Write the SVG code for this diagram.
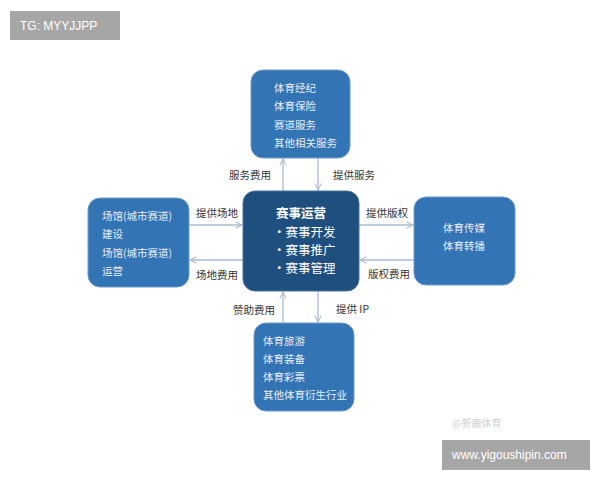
<svg xmlns="http://www.w3.org/2000/svg" width="600" height="480" viewBox="0 0 600 480">
<style>
.box{fill:#3374b5;stroke:#6f9bc8;stroke-width:1}
.ctr{fill:#1e4f7e;stroke:#4a72a0;stroke-width:1}
.t{font-family:"Noto Sans CJK SC","Liberation Serif",serif;font-size:10.5px;fill:#e8eef7}
.c{font-family:"Noto Sans CJK SC","Liberation Serif",serif;font-size:12.5px;fill:#ffffff}
.l{font-family:"Noto Sans CJK SC","Liberation Serif",serif;font-size:10.5px;fill:#333}
.ln{stroke:#a9bccf;stroke-width:1.3;fill:none;marker-end:url(#a)}
.tag{fill:#a6a6a6}
.tagt{font-family:"Liberation Sans",Arial,sans-serif;font-size:12px;fill:#fff}
</style>
<defs><marker id="a" viewBox="0 0 10 10" refX="9" refY="5" markerWidth="8" markerHeight="8" orient="auto" markerUnits="userSpaceOnUse"><path d="M1 1L9 5L1 9" fill="none" stroke="#a9bccf" stroke-width="1.3"/></marker></defs>
<rect width="600" height="480" fill="#fff"/>
<g id="tag1"><rect class="tag" x="10" y="11" width="110" height="29"/><text class="tagt" x="20" y="30">TG: MYYJJPP</text></g>
<g id="tag2"><rect class="tag" x="442" y="440" width="148" height="30"/><text class="tagt" x="452" y="459" font-size="12.5">www.yigoushipin.com</text></g>
<text x="452" y="427" font-family="Noto Sans CJK SC,sans-serif" font-size="10" fill="#d0d0d0">@新鹿体育</text>
<g id="connectors">
<line class="ln" x1="283" y1="191" x2="283" y2="159"/>
<line class="ln" x1="318" y1="158" x2="318" y2="190"/>
<line class="ln" x1="283" y1="323" x2="283" y2="292"/>
<line class="ln" x1="318" y1="291" x2="318" y2="322"/>
<line class="ln" x1="189" y1="225" x2="242" y2="225"/>
<line class="ln" x1="243" y1="260" x2="190" y2="260"/>
<line class="ln" x1="359" y1="225" x2="413" y2="225"/>
<line class="ln" x1="414" y1="260" x2="360" y2="260"/>
<text class="l" x="229" y="179">服务费用</text>
<text class="l" x="333" y="179">提供服务</text>
<text class="l" x="196" y="217">提供场地</text>
<text class="l" x="196" y="279">场地费用</text>
<text class="l" x="366" y="217">提供版权</text>
<text class="l" x="368" y="278">版权费用</text>
<text class="l" x="233" y="314">赞助费用</text>
<text class="l" x="336" y="313">提供 IP</text>
</g>
<g id="top"><rect class="box" x="251" y="70" width="99" height="88" rx="12"/>
<text class="t" x="274" y="92">体育经纪</text><text class="t" x="274" y="110">体育保险</text><text class="t" x="274" y="129">赛道服务</text><text class="t" x="274" y="147">其他相关服务</text></g>
<g id="center"><rect class="ctr" x="243" y="191" width="116" height="100" rx="12"/>
<text class="c" x="301" y="218" text-anchor="middle" font-weight="bold">赛事运营</text>
<text class="c" x="273" y="237">·赛事开发</text><text class="c" x="273" y="255">·赛事推广</text><text class="c" x="273" y="273">·赛事管理</text></g>
<g id="left"><rect class="box" x="88" y="198" width="101" height="89" rx="12"/>
<text class="t" x="102" y="220">场馆(城市赛道)</text><text class="t" x="102" y="238">建设</text><text class="t" x="102" y="257">场馆(城市赛道)</text><text class="t" x="102" y="275">运营</text></g>
<g id="right"><rect class="box" x="414" y="197" width="101" height="88" rx="12"/>
<text class="t" x="443" y="232">体育传媒</text><text class="t" x="443" y="250">体育转播</text></g>
<g id="bottom"><rect class="box" x="254" y="323" width="100" height="88" rx="12"/>
<text class="t" x="263" y="345">体育旅游</text><text class="t" x="263" y="363">体育装备</text><text class="t" x="263" y="381">体育彩票</text><text class="t" x="263" y="399">其他体育衍生行业</text></g>
</svg>
